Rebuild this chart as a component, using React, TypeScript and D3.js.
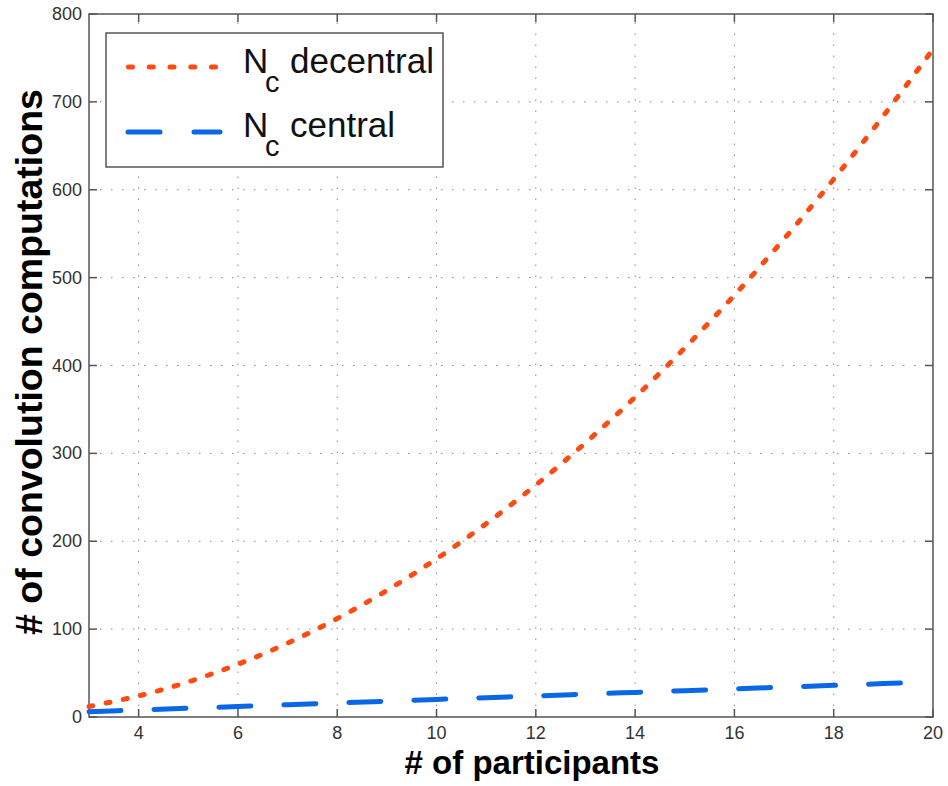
import React, { useEffect, useRef } from "react";
import * as d3 from "d3";

const participants = [3, 4, 5, 6, 7, 8, 9, 10, 11, 12, 13, 14, 15, 16, 17, 18, 19, 20];
const decentral = [12, 24, 40, 60, 84, 112, 144, 180, 220, 264, 312, 364, 420, 480, 544, 612, 684, 760];
const central = [6, 8, 10, 12, 14, 16, 18, 20, 22, 24, 26, 28, 30, 32, 34, 36, 38, 40];
const xTicks = [4, 6, 8, 10, 12, 14, 16, 18, 20];
const yTicks = [0, 100, 200, 300, 400, 500, 600, 700, 800];

const App = () => {
    const ref = useRef<SVGSVGElement>(null);

    useEffect(() => {
        const width = 948;
        const height = 786;
        const margin = { top: 14, right: 15, bottom: 69, left: 89 };
        const svg = d3.select(ref.current);
        svg.selectAll("*").remove();

        const x = d3.scaleLinear().domain([3, 20]).range([margin.left, width - margin.right]);
        const y = d3.scaleLinear().domain([0, 800]).range([height - margin.bottom, margin.top]);
        const font = "Liberation Sans, Arial, sans-serif";

        svg.append("rect").attr("width", width).attr("height", height).attr("fill", "#fff");

        // grid
        const grid = svg.append("g").attr("stroke", "#888").attr("stroke-width", 1).attr("stroke-dasharray", "1.5,9.5");
        xTicks.filter((t) => t < 20).forEach((t) => {
            grid.append("line").attr("x1", x(t)).attr("x2", x(t)).attr("y1", y(0)).attr("y2", y(800));
        });
        yTicks.filter((t) => t > 0 && t < 800).forEach((t) => {
            grid.append("line").attr("x1", x(3)).attr("x2", x(20)).attr("y1", y(t)).attr("y2", y(t));
        });

        // frame and inward ticks
        const frame = svg.append("g").attr("stroke", "#555").attr("stroke-width", 1.5).attr("fill", "none");
        frame.append("rect").attr("x", x(3)).attr("y", y(800)).attr("width", x(20) - x(3)).attr("height", y(0) - y(800));
        xTicks.forEach((t) => {
            frame.append("line").attr("x1", x(t)).attr("x2", x(t)).attr("y1", y(0)).attr("y2", y(0) - 8);
            frame.append("line").attr("x1", x(t)).attr("x2", x(t)).attr("y1", y(800)).attr("y2", y(800) + 8);
        });
        yTicks.forEach((t) => {
            frame.append("line").attr("x1", x(3)).attr("x2", x(3) + 8).attr("y1", y(t)).attr("y2", y(t));
            frame.append("line").attr("x1", x(20)).attr("x2", x(20) - 8).attr("y1", y(t)).attr("y2", y(t));
        });

        // tick labels
        svg.append("g").selectAll("text").data(xTicks).join("text")
            .attr("x", (d) => x(d)).attr("y", y(0) + 22)
            .attr("text-anchor", "middle").attr("font-family", font).attr("font-size", 18).attr("fill", "#333")
            .text((d) => d);
        svg.append("g").selectAll("text").data(yTicks).join("text")
            .attr("x", x(3) - 7).attr("y", (d) => y(d) + 6)
            .attr("text-anchor", "end").attr("font-family", font).attr("font-size", 18).attr("fill", "#333")
            .text((d) => d);

        // axis labels
        svg.append("text")
            .attr("x", 532).attr("y", 774)
            .attr("text-anchor", "middle").attr("font-family", font).attr("font-weight", "bold").attr("font-size", 33)
            .text("# of participants");
        svg.append("text")
            .attr("transform", "translate(42,362) rotate(-90)")
            .attr("text-anchor", "middle").attr("font-family", font).attr("font-weight", "bold").attr("font-size", 37.5)
            .text("# of convolution computations");

        // lines
        const line = d3.line<number>()
            .x((d, i) => x(participants[i]))
            .y((d) => y(d))
            .curve(d3.curveCatmullRom);
        svg.append("path")
            .attr("d", line(decentral))
            .attr("fill", "none").attr("stroke", "#ff4a12").attr("stroke-width", 5)
            .attr("stroke-linecap", "round").attr("stroke-dasharray", "4,13.5");
        svg.append("path")
            .attr("d", line(central))
            .attr("fill", "none").attr("stroke", "#0a68e6").attr("stroke-width", 5)
            .attr("stroke-linecap", "round").attr("stroke-dasharray", "32,33");

        // legend
        const lg = svg.append("g");
        lg.append("rect").attr("x", 106).attr("y", 33).attr("width", 337).attr("height", 134)
            .attr("fill", "#fff").attr("stroke", "#555").attr("stroke-width", 1.5);
        lg.append("line").attr("x1", 128.5).attr("x2", 222).attr("y1", 67).attr("y2", 67)
            .attr("stroke", "#ff4a12").attr("stroke-width", 5).attr("stroke-linecap", "round").attr("stroke-dasharray", "4,16.75");
        lg.append("line").attr("x1", 128).attr("x2", 220).attr("y1", 132).attr("y2", 132)
            .attr("stroke", "#0a68e6").attr("stroke-width", 5).attr("stroke-linecap", "round").attr("stroke-dasharray", "32,34");
        const entries = [
            { label: "decentral", y: 73 },
            { label: "central", y: 137 },
        ];
        entries.forEach((e) => {
            const g = lg.append("g").attr("font-family", font).attr("fill", "#111");
            g.append("text").attr("x", 243).attr("y", e.y).attr("font-size", 35).text("N");
            g.append("text").attr("x", 265).attr("y", e.y + 19).attr("font-size", 29).text("c");
            g.append("text").attr("x", 290).attr("y", e.y).attr("font-size", 35).text(e.label);
        });
    }, []);

    return <svg ref={ref} width={948} height={786} style={{ display: "block", position: "absolute", left: 0, top: 0 }} />;
};

export default App;
